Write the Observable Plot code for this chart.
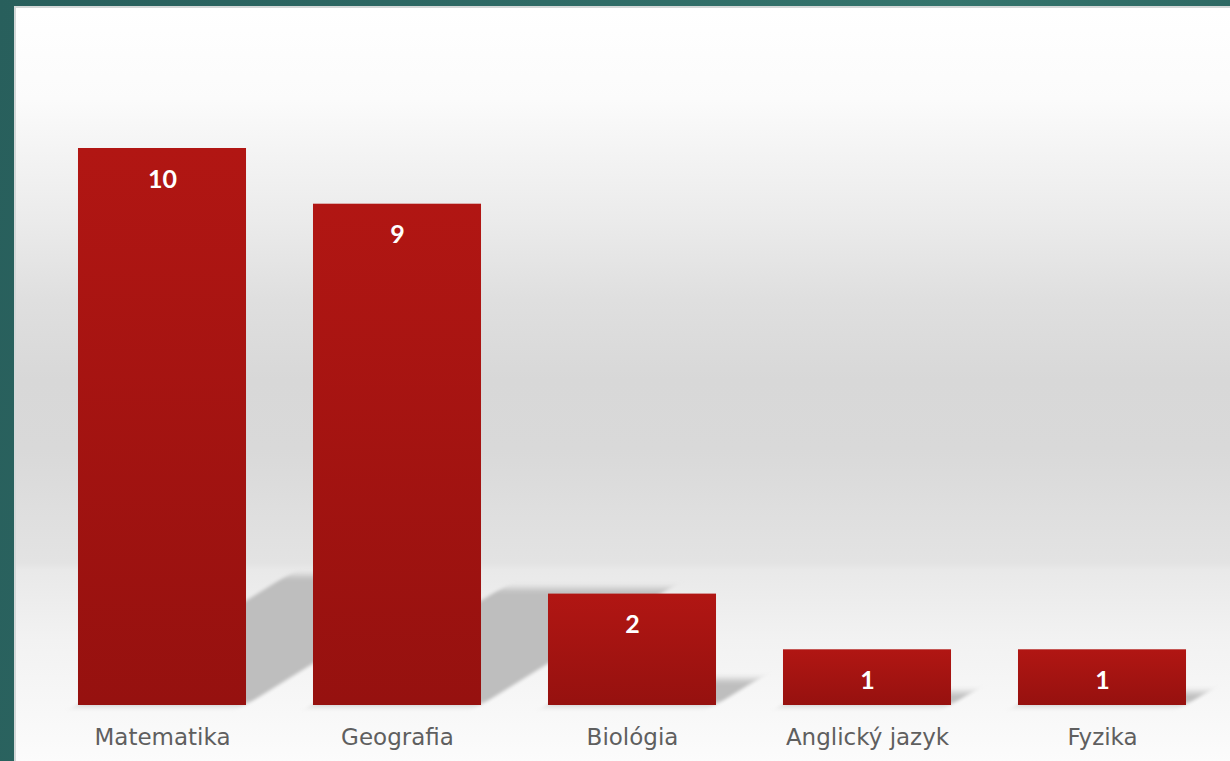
<!DOCTYPE html>
<html>
<head>
<meta charset="utf-8">
<script src="https://cdn.jsdelivr.net/npm/d3@7"></script>
<script src="https://cdn.jsdelivr.net/npm/@observablehq/plot@0.6"></script>
<style>
  html, body { margin: 0; padding: 0; }
  body {
    width: 1230px; height: 761px; overflow: hidden; position: relative;
    background: linear-gradient(100deg, #285f5c 0%, #2f6b66 40%, #35756d 70%, #2b6460 100%);
  }
  #panel {
    position: absolute; left: 14px; top: 6px; width: 1216px; height: 755px;
    box-sizing: border-box;
    border-left: 2px solid #d4d8d8; border-top: 2px solid #d4d8d8;
    background: linear-gradient(to bottom,
      #ffffff 0px, #fbfbfb 92px, #f4f4f4 142px, #ebebeb 212px, #dfdfdf 292px,
      #d8d8d8 372px, #d9d9d9 442px, #e3e3e3 555px, #e9e9e9 562px, #f2f2f2 632px,
      #fcfcfc 755px);
  }
  #chart { position: absolute; left: 0; top: 0; }
</style>
</head>
<body>
<div id="panel"></div>
<div id="chart"></div>
<script>
const categories = ["Matematika", "Geografia", "Biológia", "Anglický jazyk", "Fyzika"];
const values = [10, 9, 2, 1, 1];

const data = categories.map((c, i) => ({subject: c, count: values[i]}));
const shadowScale = 0.233;
const shadowColor = "#bebebe";

const svg = Plot.plot({
  width: 1230,
  height: 761,
  marginLeft: 44.5,
  marginRight: 10.5,
  marginTop: 148,
  marginBottom: 56,
  style: {background: "transparent", fontFamily: "'DejaVu Sans', sans-serif", overflow: "visible"},
  x: {domain: categories, paddingInner: 0.285, paddingOuter: 0.1425, label: null, round: false},
  y: {domain: [0, 10], axis: null},
  marks: [
    Plot.barY(data, {x: "subject", y: d => d.count * shadowScale, fill: shadowColor}),
    Plot.barY(data, {x: "subject", y: "count", fill: "url(#barGrad)"}),
    Plot.text(data, {x: "subject", y: "count", text: d => String(d.count), dy: 31,
      fill: "white", fontWeight: "bold", fontSize: 25, fontFamily: "Lato, sans-serif",
      textAnchor: "middle", lineAnchor: "middle"}),
    Plot.axisX({tickSize: 0, tickPadding: 23, fontSize: 23, color: "#5f5f5f", label: null})
  ]
});

const s = d3.select(svg);
s.insert("defs", ":first-child").html(`
  <linearGradient id="barGrad" x1="0" y1="0" x2="0" y2="1">
    <stop offset="0" stop-color="#b11613"/>
    <stop offset="1" stop-color="#96110f"/>
  </linearGradient>
  <filter id="shadowBlur" filterUnits="userSpaceOnUse" x="-200" y="0" width="1700" height="800">
    <feGaussianBlur stdDeviation="3.3"/>
  </filter>
`);
const base = 705;
// the shadow group is the one whose fill is the shadow colour
const shadowG = s.selectAll("g").filter(function() {
  return this.getAttribute("fill") === shadowColor;
});
let target = shadowG;
if (target.empty()) {
  target = s.selectAll("rect").filter(function() {
    return this.getAttribute("fill") === shadowColor;
  });
}
target
  .attr("transform", `translate(0,${base}) skewX(-58.2) translate(0,${-base})`)
  .attr("filter", "url(#shadowBlur)");

document.getElementById("chart").appendChild(svg);
</script>
</body>
</html>
